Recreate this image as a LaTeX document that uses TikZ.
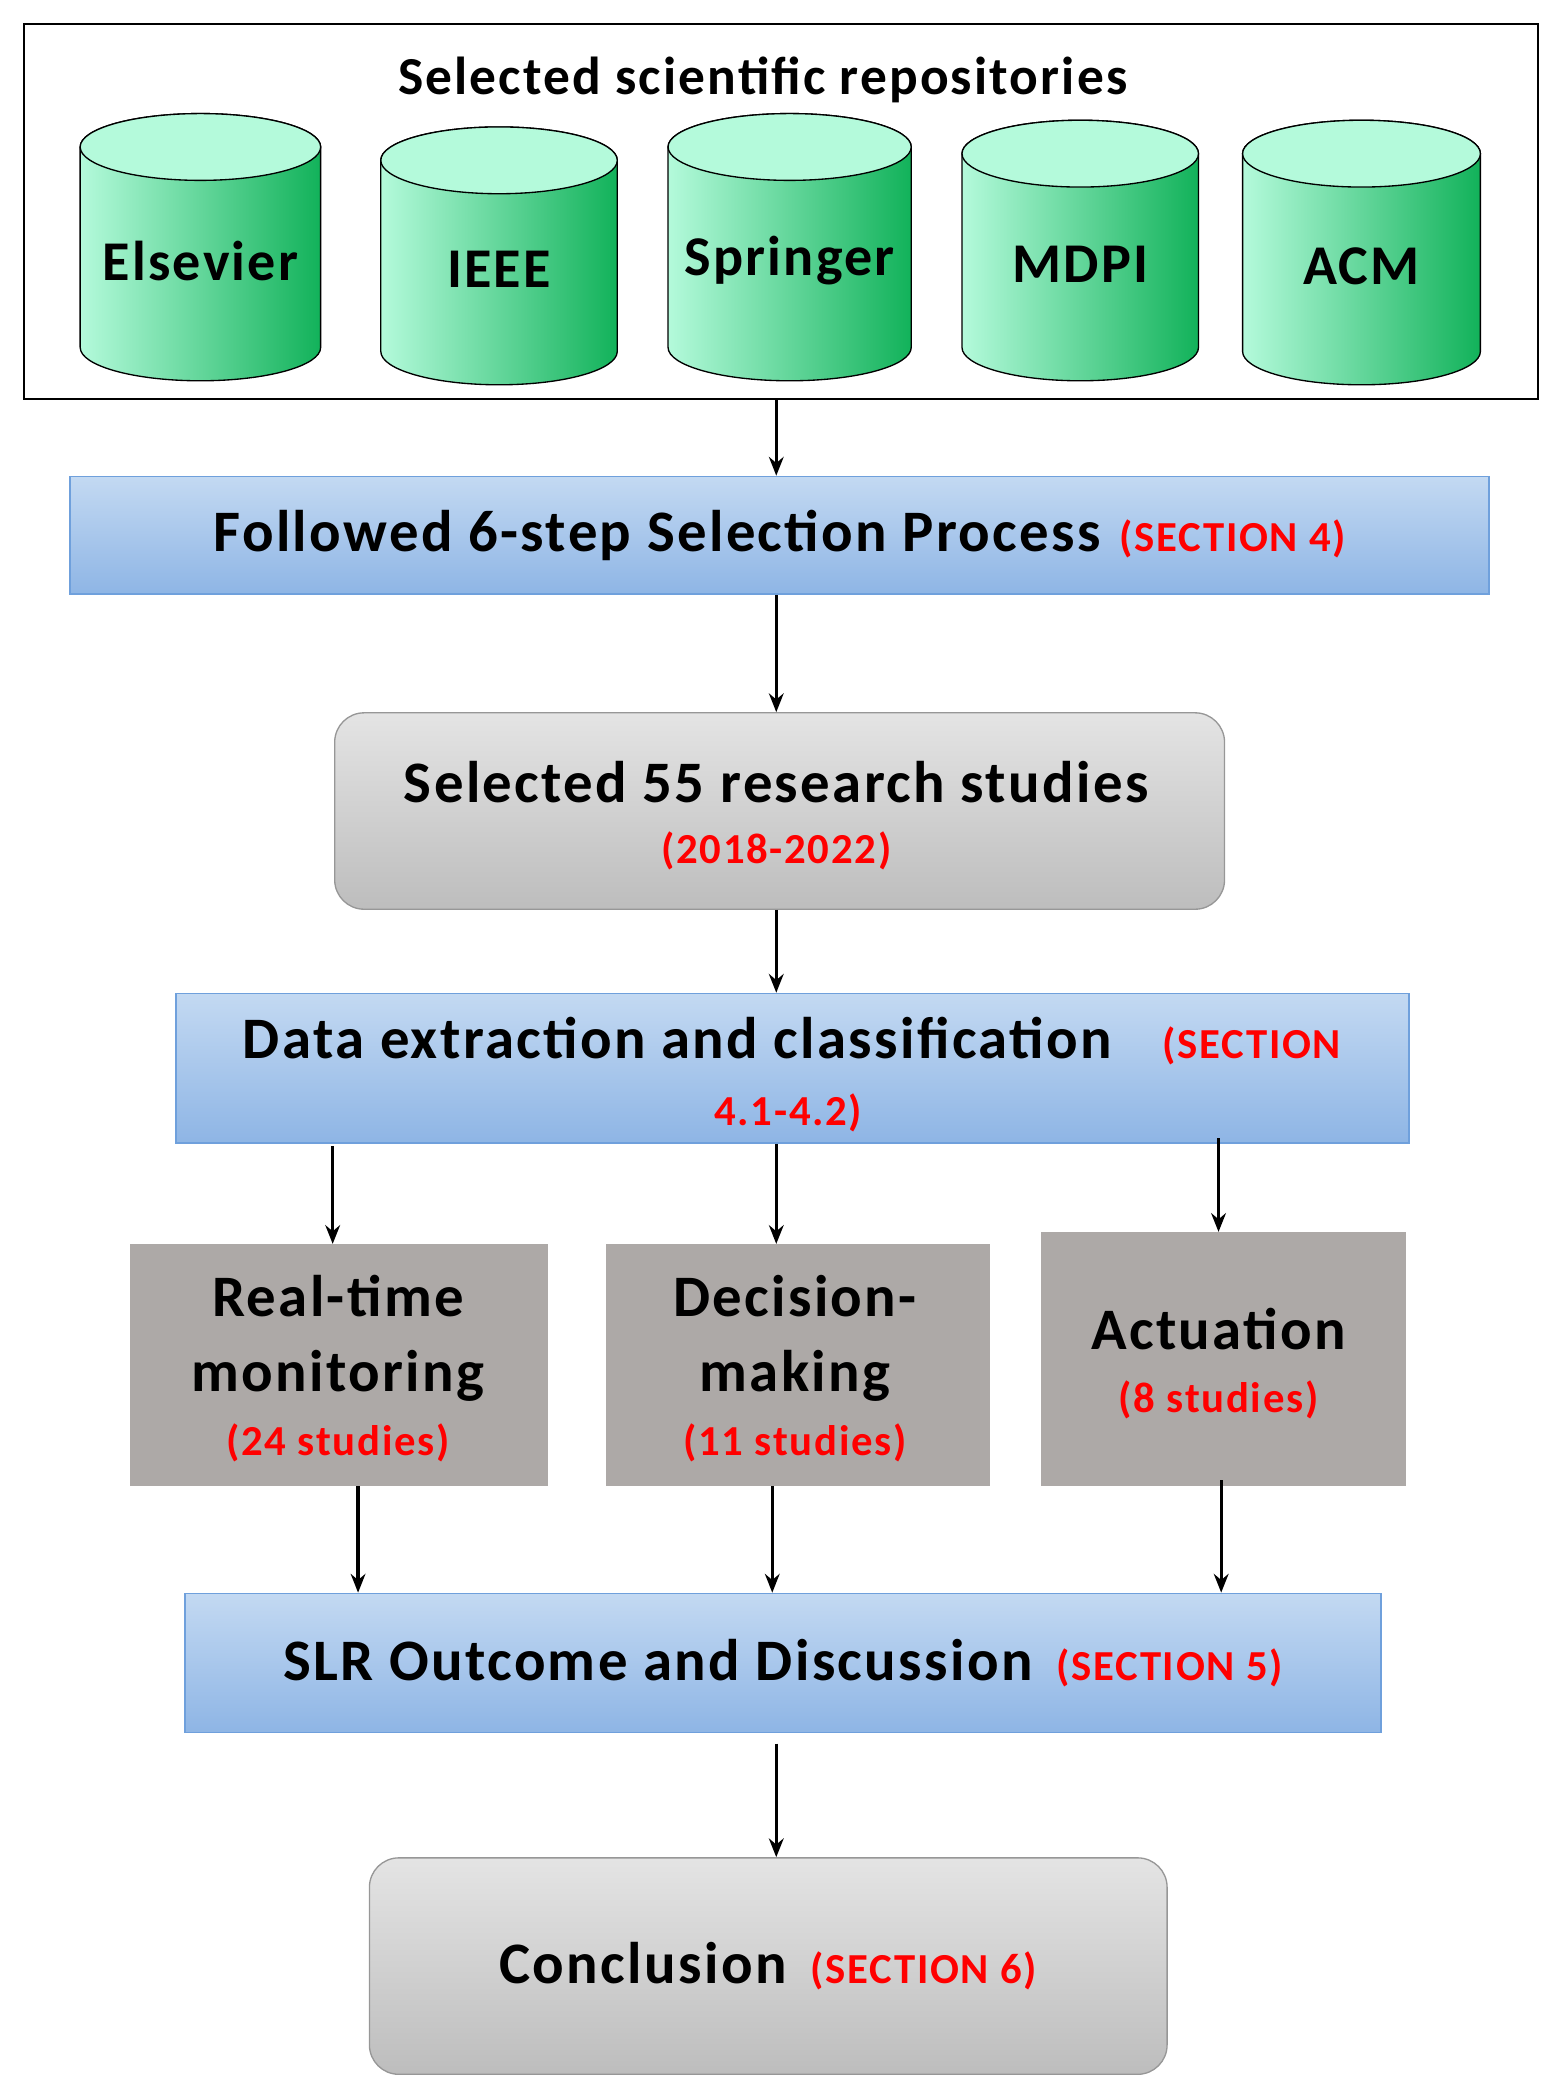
\documentclass[tikz,border=0pt]{standalone}
\usepackage{fontspec}
\setmainfont{Carlito}[LetterSpace=4]
\usetikzlibrary{arrows.meta}
\definecolor{bl1}{HTML}{C3D9F2}\definecolor{bl2}{HTML}{8EB5E5}\definecolor{blb}{HTML}{6FA0DC}
\definecolor{g1}{HTML}{E4E4E4}\definecolor{g2}{HTML}{BDBDBD}
\definecolor{gb}{HTML}{ADA9A7}
\definecolor{c1}{HTML}{B4FADB}\definecolor{c2}{HTML}{12B25A}
\definecolor{rd}{HTML}{FF0000}
\tikzset{
 blue/.style={draw=blb,line width=1.2pt,top color=bl1,bottom color=bl2,anchor=north west,inner sep=0},
 grr/.style={draw=g2!80!black,line width=1pt,rounded corners=22pt,top color=g1,bottom color=g2,anchor=north west,inner sep=0},
 gbox/.style={fill=gb,anchor=north west,inner sep=0,align=center},
 arr/.style={-{Stealth[length=14pt,width=11pt]},line width=2.4pt},
 big/.style={font=\fontsize{44}{50}\selectfont\bfseries},
 red/.style={text=rd,font=\fontsize{32}{36}\selectfont\bfseries}
}
\newcommand{\cyl}[5]{% x0 x1 ytop ybot label
 \shade[left color=c1,right color=c2,draw=black,line width=1pt]
  (#1,-#3-25) -- (#1,-#4+25) arc[start angle=180,end angle=360,x radius={(#2-#1)/2},y radius=25] -- (#2,-#3-25) arc[start angle=0,end angle=180,x radius={(#2-#1)/2},y radius=25];
 \draw[fill=c1,line width=1pt] ({(#1+#2)/2},-#3-25) ellipse[x radius={(#2-#1)/2},y radius=25];
 \node[font=\fontsize{42}{48}\selectfont\bfseries] (#5) at ({(#1+#2)/2},{-(#3+#4)/2-10}) {#5};}
\begin{document}
\begin{tikzpicture}[x=1pt,y=1pt]
\useasboundingbox (0,0) rectangle (1164,-1568);
\node[draw,line width=1.5pt,minimum width=1133pt,minimum height=281pt,anchor=north west,inner sep=0] (rep) at (17,-17) {};
\node[font=\fontsize{40}{44}\selectfont\bfseries] (title) at (571,-60) {Selected scientific repositories};
\cyl{60}{240}{85}{285}{Elsevier}
\cyl{285}{462}{95}{288}{IEEE}
\cyl{500}{682}{85}{285}{Springer}
\cyl{720}{897}{90}{285}{MDPI}
\cyl{930}{1108}{90}{288}{ACM}
\node[blue,minimum width=1062pt,minimum height=88pt] (b1) at (52,-356) {};
\node at (b1.center) {\tikz[baseline]{\node[big,anchor=base,inner sep=0]{Followed 6-step Selection Process};}\hspace{14pt}\tikz[baseline]{\node[red,anchor=base,inner sep=0]{(SECTION 4)};}};
\node[grr,minimum width=666pt,minimum height=147pt] (sel) at (250,-533) {};
\node[big] (selt) at (581,-585) {Selected 55 research studies};
\node[red] (selr) at (581,-637) {(2018-2022)};
\node[blue,minimum width=923pt,minimum height=112pt] (b2) at (131,-743) {};
\node[big,anchor=base] (b2t) at (507,-792) {Data extraction and classification};
\node[red,anchor=base] (b2r) at (937,-792) {(SECTION};
\node[red,anchor=base] (b2r2) at (590,-842) {4.1-4.2)};
\node[gbox,minimum width=313pt,minimum height=181pt] (m1) at (97,-931) {};
\node[big] at (253,-970) {Real-time};
\node[big] at (253,-1030) {monitoring};
\node[red] at (253,-1080) {(24 studies)};
\node[gbox,minimum width=288pt,minimum height=181pt] (m2) at (453,-931) {};
\node[big] at (595,-970) {Decision-};
\node[big] at (595,-1030) {making};
\node[red] at (595,-1080) {(11 studies)};
\node[gbox,minimum width=273pt,minimum height=190pt] (m3) at (779,-922) {};
\node[big] at (912,-995) {Actuation};
\node[red] at (912,-1048) {(8 studies)};
\node[blue,minimum width=895pt,minimum height=104pt] (b3) at (138,-1192) {};
\node at (b3.center) {\tikz[baseline]{\node[big,anchor=base,inner sep=0]{SLR Outcome and Discussion};}\hspace{18pt}\tikz[baseline]{\node[red,anchor=base,inner sep=0]{(SECTION 5)};}};
\node[grr,minimum width=597pt,minimum height=162pt] (con) at (276,-1390) {};
\node at (con.center) {\tikz[baseline]{\node[big,anchor=base,inner sep=0]{Conclusion};}\hspace{18pt}\tikz[baseline]{\node[red,anchor=base,inner sep=0]{(SECTION 6)};}};
\draw[arr] (581,-298) -- (b1.north -| 581,0);
\draw[arr] (b1.south -| 581,0) -- (sel.north -| 581,0);
\draw[arr] (sel.south -| 581,0) -- (b2.north -| 581,0);
\draw[arr] (249,-858) -- (m1.north -| 249,0);
\draw[arr] (b2.south -| 581,0) -- (m2.north -| 581,0);
\draw[arr] (912,-852) -- (m3.north -| 912,0);
\draw[arr] (m1.south -| 268,0) -- (b3.north -| 268,0);
\draw[arr] (m2.south -| 578,0) -- (b3.north -| 578,0);
\draw[arr] (914,-1108) -- (b3.north -| 914,0);
\draw[arr] (581,-1305) -- (con.north -| 581,0);
\end{tikzpicture}
\end{document}
